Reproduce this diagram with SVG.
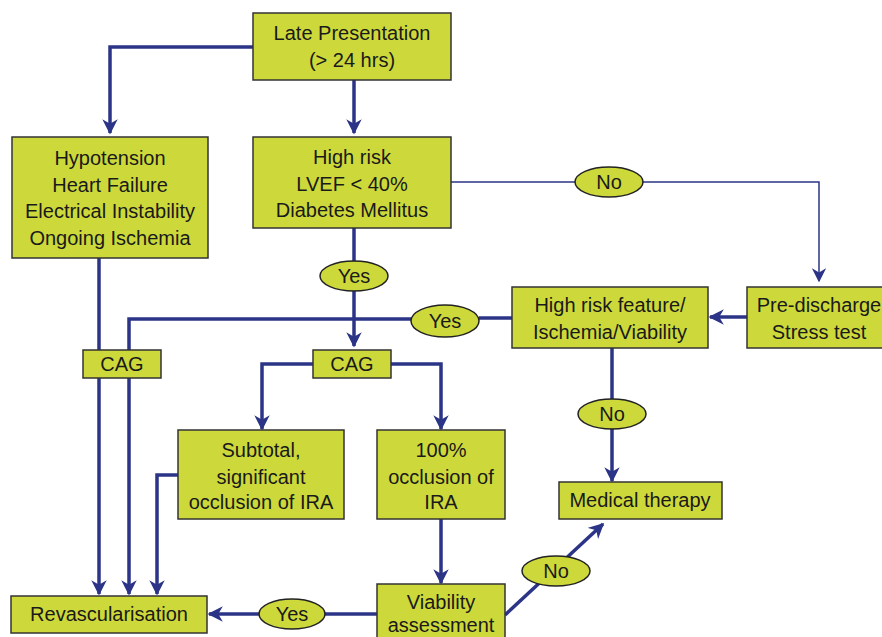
<svg xmlns="http://www.w3.org/2000/svg" width="882" height="637" viewBox="0 0 882 637">
<defs>
<style>
.box{fill:#cdd93b;stroke:#333;stroke-width:1.5}
.ell{fill:#cdd93b;stroke:#222;stroke-width:1.5}
.t{font-family:"Liberation Sans",Arial,sans-serif;font-size:20px;fill:#1a1a1a;text-anchor:middle;dominant-baseline:central}
.c{fill:none;stroke:#2b3486;stroke-width:3.5}
.thin{fill:none;stroke:#2b3486;stroke-width:1.5}
</style>
<marker id="ah" viewBox="0 0 10 10" refX="9" refY="5" markerWidth="4.4" markerHeight="4.4" markerUnits="strokeWidth" orient="auto">
<path d="M0,0 L10,5 L0,10 L3,5 Z" fill="#2b3486"/>
</marker>
<marker id="ahs" viewBox="0 0 10 10" refX="9" refY="5" markerWidth="9.5" markerHeight="9.5" markerUnits="strokeWidth" orient="auto">
<path d="M0,0 L10,5 L0,10 L3,5 Z" fill="#2b3486"/>
</marker>
</defs>
<rect width="882" height="637" fill="#fff"/>
<g id="connectors">
<path class="c" d="M253,47 H110 V133" marker-end="url(#ah)"/>
<path class="c" d="M354,80 V133" marker-end="url(#ah)"/>
<path class="thin" d="M451,182 H819 V281" marker-end="url(#ahs)"/>
<path class="c" d="M354,228 V346" marker-end="url(#ah)"/>
<path class="c" d="M747,317 H710" marker-end="url(#ah)"/>
<path class="c" d="M512,318 H479"/>
<path class="c" d="M412,319 H129 V594" marker-end="url(#ah)"/>
<path class="c" d="M99,258 V594" marker-end="url(#ah)"/>
<path class="c" d="M313,364 H262 V429" marker-end="url(#ah)"/>
<path class="c" d="M391,364 H441 V429" marker-end="url(#ah)"/>
<path class="c" d="M178,475 H157 V594" marker-end="url(#ah)"/>
<path class="c" d="M441,519 V583" marker-end="url(#ah)"/>
<path class="c" d="M377,614 H209" marker-end="url(#ah)"/>
<path class="c" d="M505,615 L603,524" marker-end="url(#ah)"/>
<path class="c" d="M612,348 V481" marker-end="url(#ah)"/>
</g>
<g id="late"><rect class="box" x="253" y="13" width="198" height="67"/><text class="t" x="352" y="33">Late Presentation</text><text class="t" x="352" y="60">(&gt; 24 hrs)</text></g>
<g id="hypo"><rect class="box" x="12" y="137" width="196" height="121"/><text class="t" x="110" y="158">Hypotension</text><text class="t" x="110" y="185">Heart Failure</text><text class="t" x="110" y="211">Electrical Instability</text><text class="t" x="110" y="238">Ongoing Ischemia</text></g>
<g id="highrisk"><rect class="box" x="253" y="137" width="198" height="91"/><text class="t" x="352" y="157">High risk</text><text class="t" x="352" y="184">LVEF &lt; 40%</text><text class="t" x="352" y="210">Diabetes Mellitus</text></g>
<g id="no1"><ellipse class="ell" cx="609" cy="182" rx="34" ry="15"/><text class="t" x="609" y="182">No</text></g>
<g id="yes1"><ellipse class="ell" cx="354" cy="276" rx="34" ry="15"/><text class="t" x="354" y="276">Yes</text></g>
<g id="predis"><rect class="box" x="747" y="287" width="145" height="61"/><text class="t" x="819" y="305">Pre-discharge</text><text class="t" x="819" y="332">Stress test</text></g>
<g id="hrf"><rect class="box" x="512" y="287" width="196" height="61"/><text class="t" x="610" y="305">High risk feature/</text><text class="t" x="610" y="332">Ischemia/Viability</text></g>
<g id="yes2"><ellipse class="ell" cx="445" cy="321" rx="34" ry="16"/><text class="t" x="445" y="321">Yes</text></g>
<g id="cag1"><rect class="box" x="83" y="350" width="78" height="28"/><text class="t" x="122" y="364">CAG</text></g>
<g id="cag2"><rect class="box" x="313" y="350" width="78" height="28"/><text class="t" x="352" y="364">CAG</text></g>
<g id="no2"><ellipse class="ell" cx="612" cy="414" rx="34" ry="15"/><text class="t" x="612" y="414">No</text></g>
<g id="subtotal"><rect class="box" x="178" y="430" width="166" height="89"/><text class="t" x="261" y="450">Subtotal,</text><text class="t" x="261" y="477">significant</text><text class="t" x="261" y="502">occlusion of IRA</text></g>
<g id="occl"><rect class="box" x="377" y="430" width="128" height="89"/><text class="t" x="441" y="450">100%</text><text class="t" x="441" y="477">occlusion of</text><text class="t" x="441" y="502">IRA</text></g>
<g id="medical"><rect class="box" x="559" y="482" width="163" height="37"/><text class="t" x="640" y="500">Medical therapy</text></g>
<g id="no3"><ellipse class="ell" cx="556" cy="571" rx="34" ry="15"/><text class="t" x="556" y="571">No</text></g>
<g id="revasc"><rect class="box" x="11" y="596" width="196" height="37"/><text class="t" x="109" y="614">Revascularisation</text></g>
<g id="yes3"><ellipse class="ell" cx="292" cy="614" rx="33" ry="15"/><text class="t" x="292" y="614">Yes</text></g>
<g id="viab"><rect class="box" x="377" y="584" width="128" height="60"/><text class="t" x="441" y="602">Viability</text><text class="t" x="441" y="625">assessment</text></g>
</svg>
